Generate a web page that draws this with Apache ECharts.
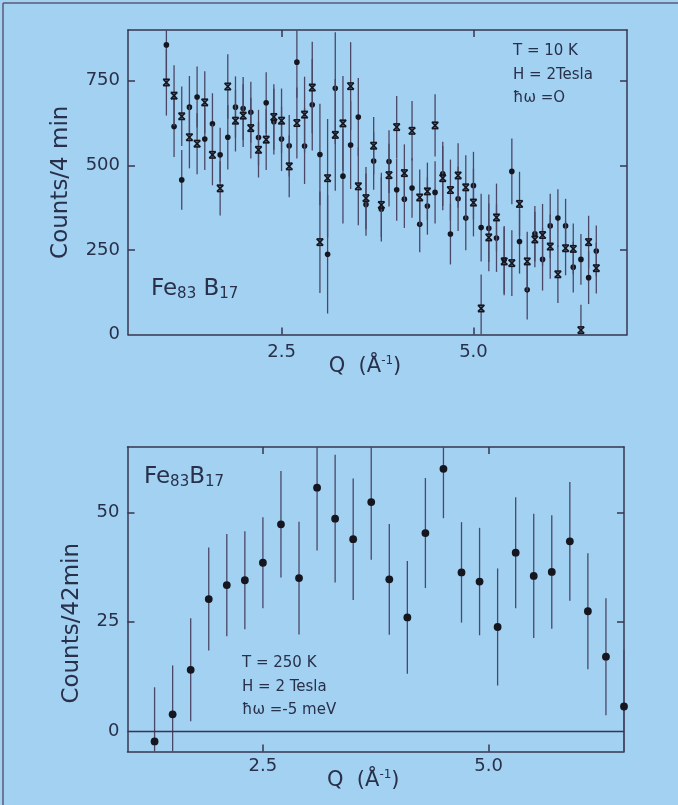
<!DOCTYPE html>
<html>
<head>
    <meta charset="utf-8">
    <title>Fe83B17</title>
    <script src="https://cdn.jsdelivr.net/npm/echarts@6/dist/echarts.min.js"></script>
    <style>
        html, body { margin: 0; padding: 0; background: #a3d1f2; }
    </style>
</head>
<body>
    <div id="main" style="width: 678px;height:805px;"></div>
    <script type="text/javascript">
        // top panel: T = 10 K, hw = 0  (Q in 1/A, counts per 4 min)
        var qTop = [1.0, 1.1, 1.2, 1.3, 1.4, 1.5, 1.6, 1.7, 1.8, 1.9,
                    2.0, 2.1, 2.2, 2.3, 2.4, 2.5, 2.6, 2.7, 2.8, 2.9,
                    3.0, 3.1, 3.2, 3.3, 3.4, 3.5, 3.6, 3.7, 3.8, 3.9,
                    4.0, 4.1, 4.2, 4.3, 4.4, 4.5, 4.6, 4.7, 4.8, 4.9,
                    5.0, 5.1, 5.2, 5.3, 5.4, 5.5, 5.6, 5.7, 5.8, 5.9,
                    6.0, 6.1, 6.2, 6.3, 6.4, 6.5, 6.6];
        var dotTop = [856, 615, 457, 672, 702, 578, 623, 531, 583, 672,
                      668, 657, 582, 685, 629, 578, 558, 805, 557, 679,
                      532, 237, 728, 468, 560, 643, 384, 513, 370, 511,
                      428, 400, 433, 326, 380, 420, 475, 297, 401, 344,
                      440, 316, 314, 285, 221, 482, 275, 132, 298, 222,
                      321, 344, 321, 199, 222, 168, 247];
        var crossTop = [745, 706, 645, 583, 564, 686, 531, 432, 733, 632,
                        647, 610, 546, 576, 643, 632, 497, 625, 650, 730,
                        273, 462, 590, 624, 734, 438, 403, 558, 383, 471,
                        613, 477, 602, 405, 423, 618, 462, 427, 470, 435,
                        390, 77, 287, 346, 216, 211, 386, 216, 281, 294,
                        260, 178, 255, 253, 13, 273, 196];
        var errTop = [98, 90, 88, 92, 90, 92, 90, 80, 95, 91,
                      93, 90, 82, 90, 97, 95, 91, 105, 112, 135,
                      150, 175, 165, 140, 130, 115, 92, 85, 95, 93,
                      92, 85, 88, 83, 85, 92, 95, 90, 95, 95,
                      100, 100, 100, 100, 100, 97, 95, 88, 82, 92,
                      95, 85, 80, 75, 75, 78, 75];

        // bottom panel: T = 250 K, hw = -5 meV (counts per 42 min)
        var qBot = [1.3, 1.5, 1.7, 1.9, 2.1, 2.3, 2.5, 2.7, 2.9, 3.1,
                    3.3, 3.5, 3.7, 3.9, 4.1, 4.3, 4.5, 4.7, 4.9, 5.1,
                    5.3, 5.5, 5.7, 5.9, 6.1, 6.3, 6.5];
        var cntBot = [-2.4, 3.8, 14.0, 30.2, 33.4, 34.5, 38.5, 47.3, 35.0, 55.7,
                      48.6, 43.9, 52.4, 34.7, 26.0, 45.3, 60.0, 36.3, 34.2, 23.8,
                      40.8, 35.5, 36.4, 43.4, 27.4, 17.0, 5.6];
        var errBot = [12.4, 11.2, 11.8, 11.8, 11.7, 11.2, 10.4, 12.2, 12.9, 14.4,
                      14.6, 13.9, 13.2, 12.7, 12.9, 12.6, 11.3, 11.5, 12.3, 13.4,
                      12.7, 14.2, 13.0, 13.6, 13.3, 13.4, 13.0];

        var xTicks = [2.5, 5.0];
        var yTicksTop = [250, 500, 750];
        var yLabelsTop = [0, 250, 500, 750];
        var yTicksBot = [25, 50];
        var yLabelsBot = [0, 25, 50];

        var ink = '#28304a';
        var barInk = '#4b4766';
        var dotInk = '#15161f';
        var fam = 'DejaVu Sans';

        function rows(q, v, e) {
            var out = [];
            for (var i = 0; i < q.length; i++) out.push([q[i], v[i], e[i]]);
            return out;
        }

        // error bar + marker, drawn through the axis scales
        function errRender(kind, r) {
            return function (params, api) {
                var x = api.value(0), y = api.value(1), e = api.value(2);
                var c = api.coord([x, y]);
                var hi = api.coord([x, y + e]);
                var lo = api.coord([x, y - e]);
                var cs = params.coordSys;
                var top = Math.max(hi[1], cs.y);
                var bot = Math.min(lo[1], cs.y + cs.height);
                var kids = [{
                    type: 'line',
                    shape: { x1: c[0], y1: top, x2: c[0], y2: bot },
                    style: { stroke: barInk, lineWidth: 1.3 }
                }];
                if (kind === 'dot') {
                    kids.push({ type: 'circle', shape: { cx: c[0], cy: c[1], r: r }, style: { fill: dotInk } });
                } else {
                    var s = { stroke: dotInk, lineWidth: 1.6 };
                    kids.push({ type: 'line', shape: { x1: c[0] - r, y1: c[1] - r, x2: c[0] + r, y2: c[1] + r }, style: s });
                    kids.push({ type: 'line', shape: { x1: c[0] + r, y1: c[1] - r, x2: c[0] - r, y2: c[1] + r }, style: s });
                    kids.push({ type: 'line', shape: { x1: c[0] - r, y1: c[1] - r, x2: c[0] + r, y2: c[1] - r }, style: s });
                    kids.push({ type: 'line', shape: { x1: c[0] - r, y1: c[1] + r, x2: c[0] + r, y2: c[1] + r }, style: s });
                }
                return { type: 'group', children: kids };
            };
        }

        var lineStyle = { color: '#363650', width: 1.5 };

        function xAx(grid, min, max, pos, labels, gap) {
            return {
                type: 'value', gridIndex: grid, min: min, max: max, position: pos,
                axisLine: { show: true, onZero: false, lineStyle: lineStyle },
                axisTick: { show: true, inside: true, length: 7, customValues: xTicks, lineStyle: lineStyle },
                axisLabel: {
                    show: labels, customValues: xTicks, margin: gap,
                    formatter: function (v) { return v.toFixed(1); },
                    color: ink, fontSize: 18, fontFamily: fam
                },
                splitLine: { show: false }
            };
        }

        function yAx(grid, min, max, pos, ticks, labels) {
            return {
                type: 'value', gridIndex: grid, min: min, max: max, position: pos,
                axisLine: { show: true, onZero: false, lineStyle: lineStyle },
                axisTick: { show: true, inside: true, length: 7, customValues: ticks, lineStyle: lineStyle },
                axisLabel: {
                    show: !!labels, customValues: labels || [], margin: 8,
                    color: ink, fontSize: 18, fontFamily: fam
                },
                splitLine: { show: false }
            };
        }

        var qName = '{t|Q  (Å}{s|-1}{t|)}';
        var qRich = {
            t: { fontSize: 21, fontFamily: fam, color: ink, lineHeight: 24 },
            s: { fontSize: 12, fontFamily: fam, color: ink, lineHeight: 12, verticalAlign: 'top' }
        };

        var xTop = xAx(0, 0.5, 7.0, 'bottom', true, 9);
        xTop.name = qName;
        xTop.nameLocation = 'middle';
        xTop.nameGap = 20;
        xTop.nameMoveOverlap = false;
        xTop.nameTextStyle = { rich: qRich, padding: [0, 25, 0, 0] };

        var xBot = xAx(1, 1.0, 6.5, 'bottom', true, 6);
        xBot.name = qName;
        xBot.nameLocation = 'middle';
        xBot.nameGap = 17;
        xBot.nameMoveOverlap = false;
        xBot.nameTextStyle = { rich: qRich, padding: [0, 25, 0, 0] };

        var yTop = yAx(0, 0, 900, 'left', yTicksTop, yLabelsTop);
        yTop.name = 'Counts/4 min';
        yTop.nameLocation = 'middle';
        yTop.nameGap = 55;
        yTop.nameMoveOverlap = false;
        yTop.nameTextStyle = { color: ink, fontSize: 23, fontFamily: fam };

        var yBot = yAx(1, -4.7, 65, 'left', yTicksBot, yLabelsBot);
        yBot.name = 'Counts/42min';
        yBot.nameLocation = 'middle';
        yBot.nameGap = 44;
        yBot.nameMoveOverlap = false;
        yBot.nameTextStyle = { color: ink, fontSize: 23, fontFamily: fam, padding: [0, 48, 0, 0] };

        var feRich = {
            m: { fontSize: 23, fontFamily: fam, fill: ink, lineHeight: 26 },
            s: { fontSize: 15, fontFamily: fam, fill: ink, lineHeight: 12, verticalAlign: 'bottom' }
        };

        var myChart = echarts.init(document.getElementById('main'));

        var option = {
            backgroundColor: '#a3d1f2',
            animation: false,
            grid: [
                { left: 128, top: 30, width: 499, height: 304.5 },
                { left: 127.5, top: 447, width: 496.5, height: 304.5 }
            ],
            xAxis: [
                xTop,
                xAx(0, 0.5, 7.0, 'top', false, 8),
                xBot,
                xAx(1, 1.0, 6.5, 'top', false, 8)
            ],
            yAxis: [
                yTop,
                yAx(0, 0, 900, 'right', yTicksTop, null),
                yBot,
                yAx(1, -4.7, 65, 'right', yTicksBot, null)
            ],
            graphic: [
                { type: 'line', shape: { x1: 3, y1: 3, x2: 678, y2: 3 }, style: { stroke: '#5b5a78', lineWidth: 1.5 } },
                { type: 'line', shape: { x1: 3, y1: 3, x2: 3, y2: 805 }, style: { stroke: '#5b5a78', lineWidth: 1.5 } },
                {
                    type: 'text', x: 151, y: 289,
                    style: { text: '{m|Fe}{s|83}{m| B}{s|17}', rich: feRich, verticalAlign: 'middle' }
                },
                {
                    type: 'text', x: 144, y: 477,
                    style: { text: '{m|Fe}{s|83}{m|B}{s|17}', rich: feRich, verticalAlign: 'middle' }
                },
                {
                    type: 'text', x: 513, y: 75,
                    style: {
                        text: 'T = 10 K\nH = 2Tesla\nħω =O',
                        font: '15px "DejaVu Sans"', fill: ink, lineHeight: 23.5, verticalAlign: 'middle'
                    }
                },
                {
                    type: 'text', x: 242, y: 687,
                    style: {
                        text: 'T = 250 K\nH = 2 Tesla\nħω =-5 meV',
                        font: '15px "DejaVu Sans"', fill: ink, lineHeight: 23.5, verticalAlign: 'middle'
                    }
                }
            ],
            series: [
                {
                    type: 'custom', xAxisIndex: 0, yAxisIndex: 0,
                    data: rows(qTop, dotTop, errTop),
                    renderItem: errRender('dot', 2.8)
                },
                {
                    type: 'custom', xAxisIndex: 0, yAxisIndex: 0,
                    data: rows(qTop, crossTop, errTop),
                    renderItem: errRender('cross', 3.2)
                },
                {
                    type: 'custom', xAxisIndex: 2, yAxisIndex: 2,
                    data: rows(qBot, cntBot, errBot),
                    renderItem: errRender('dot', 3.9),
                    markLine: {
                        silent: true, symbol: 'none', label: { show: false },
                        lineStyle: { color: '#363650', width: 1.3, type: 'solid' },
                        data: [{ yAxis: 0 }]
                    }
                }
            ]
        };

        myChart.setOption(option);
    </script>
</body>
</html>
